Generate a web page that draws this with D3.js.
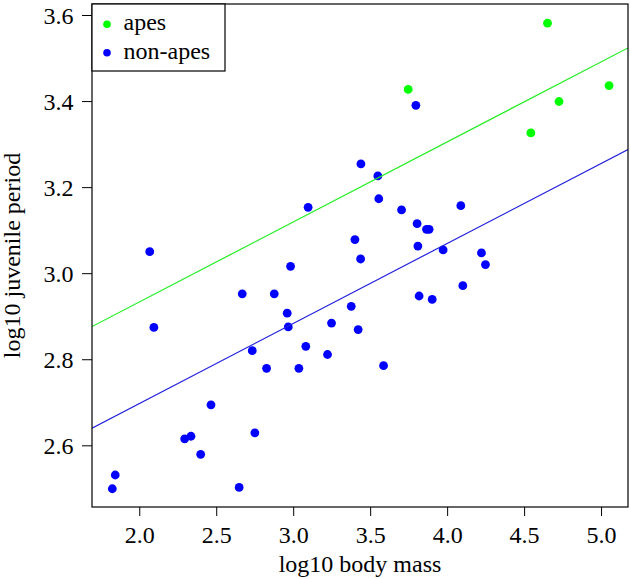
<!DOCTYPE html>
<html>
<head>
<meta charset="utf-8">
<script src="https://cdn.jsdelivr.net/npm/d3@7"></script>
<style>
  html, body { margin: 0; padding: 0; background: #fff; }
  svg { display: block; }
</style>
</head>
<body>
<script>
// ---- data ----
const apesX = [4.652, 3.747, 5.052, 4.727, 4.544];
const apesY = [3.581, 3.427, 3.436, 3.399, 3.326];

const nonApesX = [2.068, 2.095, 2.983, 3.097, 2.669, 2.877, 2.961, 2.968, 3.082, 2.734,
                  2.827, 3.037, 2.466, 2.295, 2.336, 2.751, 2.399, 1.844, 1.825, 2.649,
                  3.797, 3.440, 3.550, 3.556, 3.704, 4.089, 3.805, 3.866, 3.883, 3.401,
                  3.810, 3.974, 4.223, 3.438, 4.249, 4.102, 3.818, 3.903, 3.377, 3.249,
                  3.422, 3.223, 3.587];
const nonApesY = [3.050, 2.874, 3.016, 3.153, 2.952, 2.952, 2.907, 2.875, 2.830, 2.820,
                  2.779, 2.779, 2.694, 2.615, 2.621, 2.629, 2.579, 2.531, 2.499, 2.502,
                  3.390, 3.254, 3.226, 3.173, 3.147, 3.157, 3.115, 3.102, 3.102, 3.078,
                  3.063, 3.054, 3.047, 3.033, 3.020, 2.971, 2.947, 2.939, 2.923, 2.884,
                  2.869, 2.811, 2.785];

// fitted lines (parallel slopes)
const lineNames = ["apes", "non-apes"];
const lineIntercepts = [2.561, 2.325];
const lineSlope = 0.186;

const xTicks = [2.0, 2.5, 3.0, 3.5, 4.0, 4.5, 5.0];
const yTicks = [2.6, 2.8, 3.0, 3.2, 3.4, 3.6];

const legendLabels = ["apes", "non-apes"];
const colors = ["#00ff00", "#0000ff"];
const lineColors = ["#22ee22", "#2222dd"];

// ---- layout ----
const W = 630, H = 579;
const mL = 92, mR = 628, mT = 4, mB = 507;
const font = "'Liberation Serif', 'Times New Roman', serif";

const x = d3.scaleLinear().domain([1.693, 5.175]).range([mL, mR]);
const y = d3.scaleLinear().domain([2.4566, 3.6256]).range([mB, mT]);

const svg = d3.select("body").append("svg").attr("width", W).attr("height", H);

svg.append("clipPath").attr("id", "clip")
  .append("rect").attr("x", mL).attr("y", mT).attr("width", mR - mL).attr("height", mB - mT);

// axes
const xAxis = svg.append("g").attr("transform", `translate(0,${mB})`)
  .call(d3.axisBottom(x).tickValues(xTicks).tickFormat(d3.format(".1f")).tickSize(9));
xAxis.select(".domain").remove();
xAxis.selectAll("line").attr("stroke", "#000").attr("stroke-width", 1);
xAxis.selectAll("text").attr("y", 36).attr("dy", 0)
  .style("font-family", font).style("font-size", "24px").attr("fill", "#000");

const yAxis = svg.append("g").attr("transform", `translate(${mL},0)`)
  .call(d3.axisLeft(y).tickValues(yTicks).tickFormat(d3.format(".1f")).tickSize(10));
yAxis.select(".domain").remove();
yAxis.selectAll("line").attr("stroke", "#000").attr("stroke-width", 1);
yAxis.selectAll("text").attr("x", -18.5).attr("dy", "0.34em")
  .style("font-family", font).style("font-size", "24px").attr("fill", "#000");

// axis titles
svg.append("text").attr("x", (mL + mR) / 2).attr("y", 572)
  .attr("text-anchor", "middle").style("font-family", font).style("font-size", "24px")
  .text("log10 body mass");
svg.append("text")
  .attr("transform", `translate(20,${(mT + mB) / 2}) rotate(-90)`)
  .attr("text-anchor", "middle").style("font-family", font).style("font-size", "24px")
  .text("log10 juvenile period");

// points
const plot = svg.append("g");
plot.selectAll("circle.non").data(d3.range(nonApesX.length)).enter().append("circle")
  .attr("cx", i => x(nonApesX[i])).attr("cy", i => y(nonApesY[i])).attr("r", 4.4)
  .attr("fill", colors[1]);
plot.selectAll("circle.ape").data(d3.range(apesX.length)).enter().append("circle")
  .attr("cx", i => x(apesX[i])).attr("cy", i => y(apesY[i])).attr("r", 4.4)
  .attr("fill", colors[0]);

// lines
const lg = svg.append("g").attr("clip-path", "url(#clip)");
const xd = x.domain();
lineIntercepts.forEach((b, i) => {
  lg.append("line")
    .attr("x1", x(xd[0])).attr("y1", y(b + lineSlope * xd[0]))
    .attr("x2", x(xd[1])).attr("y2", y(b + lineSlope * xd[1]))
    .attr("stroke", lineColors[i]).attr("stroke-width", 1.2);
});

// box
svg.append("rect").attr("x", mL).attr("y", mT).attr("width", mR - mL).attr("height", mB - mT)
  .attr("fill", "none").attr("stroke", "#000").attr("stroke-width", 1.2);

// legend
const lgd = svg.append("g");
lgd.append("rect").attr("x", mL).attr("y", mT).attr("width", 133).attr("height", 67)
  .attr("fill", "#fff").attr("stroke", "#000").attr("stroke-width", 1.2);
legendLabels.forEach((lab, i) => {
  const cy = 24.3 + i * 28.4;
  lgd.append("circle").attr("cx", 107).attr("cy", cy).attr("r", 3.8).attr("fill", colors[i]);
  lgd.append("text").attr("x", 123.5).attr("y", cy + 5.8)
    .style("font-family", font).style("font-size", "24px").text(lab);
});
</script>
</body>
</html>
